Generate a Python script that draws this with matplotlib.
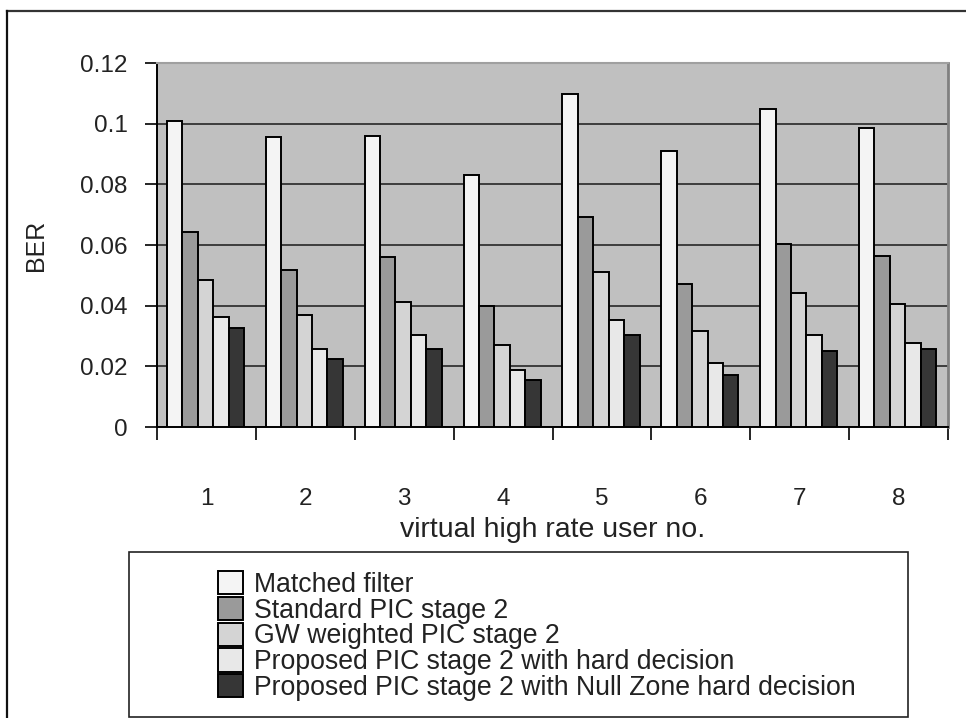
import numpy as np
import matplotlib
matplotlib.use("Agg")
import matplotlib.pyplot as plt
from matplotlib.patches import Rectangle
from matplotlib.lines import Line2D

plt.rcParams['font.family'] = ['Liberation Sans', 'DejaVu Sans']

# BER per virtual high rate user
users = [1, 2, 3, 4, 5, 6, 7, 8]
matched_filter = [0.101, 0.0957, 0.0959, 0.0831, 0.1098, 0.091, 0.105, 0.0985]
standard_pic = [0.0644, 0.0518, 0.056, 0.0399, 0.0692, 0.0471, 0.0603, 0.0564]
gw_weighted_pic = [0.0485, 0.0369, 0.0412, 0.027, 0.0511, 0.0316, 0.0443, 0.0405]
proposed_hard = [0.0364, 0.0256, 0.0303, 0.0188, 0.0353, 0.021, 0.0303, 0.0276]
proposed_null_zone = [0.0325, 0.0223, 0.0257, 0.0155, 0.0303, 0.0171, 0.0251, 0.0257]

series_labels = ["Matched filter",
                 "Standard PIC stage 2",
                 "GW weighted PIC stage 2",
                 "Proposed PIC stage 2 with hard decision",
                 "Proposed PIC stage 2 with Null Zone hard decision"]
series = [matched_filter, standard_pic, gw_weighted_pic, proposed_hard, proposed_null_zone]
colors = ['#f4f4f4', '#9a9a9a', '#d4d4d4', '#e8e8e8', '#363636']

W, H = 966, 718
fig = plt.figure(figsize=(W / 100, H / 100), dpi=100)
ax = fig.add_axes([157 / W, 1 - 427 / H, (948 - 157) / W, (427 - 63) / H])
ax.set_facecolor('#c0c0c0')

x = np.arange(len(users))
bw = 0.156
for i, (vals, col, lab) in enumerate(zip(series, colors, series_labels)):
    ax.bar(x + (i - 2) * bw - 0.01, vals, width=bw, color=col, edgecolor='black',
           linewidth=1.4, label=lab, zorder=3)

ax.set_xlim(-0.5, len(users) - 0.5)
ax.set_ylim(0, 0.12)
ax.set_yticks(np.arange(0, 0.121, 0.02))
ax.set_yticklabels(['0', '0.02', '0.04', '0.06', '0.08', '0.1', '0.12'])
ax.yaxis.grid(True, color='#1a1a1a', linewidth=1.1, zorder=1)
ax.set_axisbelow(True)

# category labels sit far below the axis, ticks mark group boundaries
ax.set_xticks(x)
ax.set_xticklabels([str(u) for u in users])
ax.set_xticks(np.arange(-0.5, len(users), 1), minor=True)
ax.tick_params(axis='x', which='major', length=0, pad=44, labelsize=17.5, colors='#222222')
ax.tick_params(axis='x', which='minor', length=9, width=1.2, direction='out')
ax.tick_params(axis='y', length=9, width=1.2, direction='out', pad=12, labelsize=17.5,
               labelcolor='#222222')

ax.set_xlabel("virtual high rate user no.", fontsize=20.5, labelpad=5, color='#222222')
ax.set_ylabel("BER", fontsize=18, labelpad=23, color='#222222')

ax.spines['left'].set_linewidth(1.4)
ax.spines['bottom'].set_linewidth(1.4)
ax.spines['top'].set_color('#a0a0a0')
ax.spines['top'].set_linewidth(1.5)
ax.spines['right'].set_color('#808080')
ax.spines['right'].set_linewidth(2)

# outer chart frame (top and left edges)
fig.add_artist(Line2D([7 / W, 1], [1 - 11 / H, 1 - 11 / H], color='#333333', linewidth=1.6))
fig.add_artist(Line2D([7 / W, 7 / W], [0, 1 - 11 / H], color='#111111', linewidth=1.6))

# legend box
fig.add_artist(Rectangle((129 / W, 1 - 717 / H), (908 - 129) / W, (717 - 552) / H,
                         facecolor='white', edgecolor='#222222', linewidth=1.2,
                         transform=fig.transFigure, zorder=1))
leg = fig.legend(loc='upper left', bbox_to_anchor=(218 / W, 1 - 571 / H), frameon=False,
                 fontsize=19.2, handlelength=0.95, handleheight=0.97, labelspacing=-0.04,
                 handletextpad=0.4, borderaxespad=0, borderpad=0)
for t in leg.get_texts():
    t.set_color('#222222')

fig.savefig("out.png", dpi=100)
